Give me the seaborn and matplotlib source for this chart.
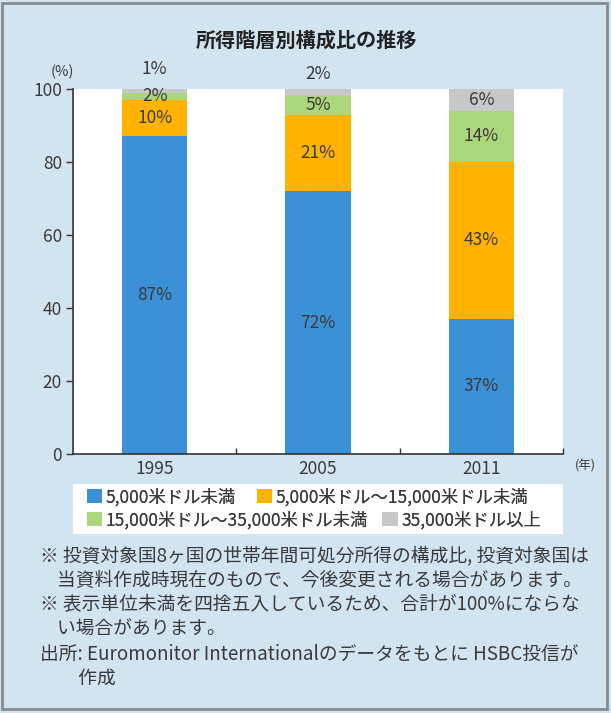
import pandas as pd
import seaborn as sns
import matplotlib.pyplot as plt
from matplotlib.patches import Patch, Rectangle

# data (%)
years = ["1995", "2005", "2011"]
under_5k = [87, 72, 37]
from_5k_to_15k = [10, 21, 43]
from_15k_to_35k = [2, 5, 14]
over_35k = [1, 2, 6]

series_names = ["5,000米ドル未満", "5,000米ドル～15,000米ドル未満",
                "15,000米ドル～35,000米ドル未満", "35,000米ドル以上"]
colors = ["#3b90d6", "#ffb300", "#abd77c", "#c8c8c8"]

title = "所得階層別構成比の推移"
notes = [
    "※ 投資対象国8ヶ国の世帯年間可処分所得の構成比, 投資対象国は",
    "    当資料作成時現在のもので、今後変更される場合があります。",
    "※ 表示単位未満を四捨五入しているため、合計が100%にならな",
    "    い場合があります。",
    "出所: Euromonitor Internationalのデータをもとに HSBC投信が",
    "         作成",
]

df = pd.DataFrame({"year": years, series_names[0]: under_5k,
                   series_names[1]: from_5k_to_15k,
                   series_names[2]: from_15k_to_35k,
                   series_names[3]: over_35k})
cum = df[series_names].cumsum(axis=1)

sns.set_style("white")
plt.rcParams["font.family"] = ["Noto Sans CJK JP", "DejaVu Sans"]
txt = "#3a3a3a"
bg = "#d3e4f1"

fig = plt.figure(figsize=(6.11, 7.13), dpi=100, facecolor=bg)
ax = fig.add_axes([73 / 611, 1 - 454 / 713, 490 / 611, 365 / 713])
ax.set_facecolor("white")

# stacked bars: draw cumulative totals from the top layer down
for name, col in reversed(list(zip(series_names, colors))):
    sns.barplot(x=df["year"], y=cum[name], color=col, width=0.4,
                saturation=1, linewidth=0, ax=ax, zorder=2)

# segment labels
for i in range(len(years)):
    bottom = 0
    for j, name in enumerate(series_names):
        v = df[name][i]
        mid = bottom + v / 2
        if j == 3 and v <= 2:
            mid = 100 + (5.5 if i == 0 else 4)
        ax.text(i, mid, f"{v}%", ha="center", va="center", fontsize=12.5,
                color=txt, clip_on=False)
        bottom += v

ax.set_xlim(-0.5, 2.5)
ax.set_ylim(0, 100)
ax.set_yticks(range(0, 101, 20))
ax.set_xlabel("")
ax.set_ylabel("")
ax.tick_params(axis="y", direction="out", length=5, width=1, colors="#333",
               labelsize=12.5, labelcolor=txt, left=True, pad=3)
ax.tick_params(axis="x", length=0, labelsize=12.5, labelcolor=txt, pad=4)
ax.set_xticks([0.5, 1.5, 2.5], minor=True)
ax.tick_params(axis="x", which="minor", direction="in", length=4,
               width=1, color="#333", bottom=True)
for s in ["top", "right"]:
    ax.spines[s].set_visible(False)
for s in ["left", "bottom"]:
    ax.spines[s].set_color("#333")
    ax.spines[s].set_linewidth(1.2)

fig.text(306 / 611, 1 - 40 / 713, title, ha="center", va="center",
         fontsize=14.5, fontweight="bold", color="#222")
fig.text(62 / 611, 1 - 72 / 713, "(%)", ha="center", va="center",
         fontsize=10.5, color=txt)
fig.text(585 / 611, 1 - 466 / 713, "(年)", ha="center", va="center",
         fontsize=9, color=txt)

# legend box
fig.patches.append(Rectangle((73 / 611, 1 - 534 / 713), 490 / 611,
                             50 / 713, transform=fig.transFigure,
                             facecolor="white", edgecolor="none", zorder=0))
handles = [Patch(facecolor=c, edgecolor="none") for c in colors]
for row, y, gap in [(0, 497, 1.2), (1, 520, 0.8)]:
    leg = fig.legend(handles[2 * row:2 * row + 2],
                     series_names[2 * row:2 * row + 2],
                     loc="center left", bbox_to_anchor=(78 / 611, 1 - y / 713),
                     ncol=2, frameon=False, fontsize=12.5, handlelength=0.9,
                     handleheight=0.9, handletextpad=0.2, columnspacing=gap,
                     borderpad=0, labelcolor=txt)
    fig.add_artist(leg)

# notes
for k, line in enumerate(notes):
    fig.text(40 / 611, 1 - (556 + k * 24.5) / 713, line, ha="left",
             va="center", fontsize=13.5, color=txt)

# outer frame
fig.patches.append(Rectangle((0.004, 0.006), 0.99, 0.99,
                             transform=fig.transFigure, fill=False,
                             edgecolor="#8a8a8a", linewidth=2))

fig.savefig("out.png", dpi=100, facecolor=bg)
